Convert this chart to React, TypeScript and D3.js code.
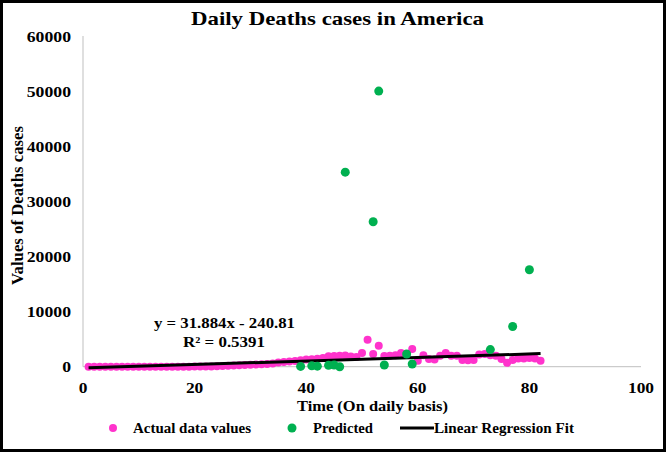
import { useEffect, useRef } from 'react';
import * as d3 from 'd3';

// actual daily deaths, days 1..82
const actualDays = d3.range(1, 83);
const actualValues = [
  0, 0, 0, 0, 0, 0, 0, 0, 0, 0,
  0, 0, 0, 0, 0, 0, 0, 0, 10, 20,
  30, 40, 50, 80, 120, 150, 200, 250, 300, 350,
  400, 450, 500, 600, 750, 850, 950, 1050, 1150, 1300,
  1350, 1450, 1600, 1900, 1950, 2000, 2050, 1850, 1750, 2500,
  4900, 2300, 3800, 1950, 2000, 2100, 2500, 2300, 3200, 1100,
  2100, 1400, 1300, 2000, 2500, 2000, 2000, 1200, 1150, 1200,
  2200, 2300, 2100, 2000, 1400, 700, 1200, 1500, 1500, 1600,
  1500, 1100,
];

// predicted points
const predDays = [39, 41, 42, 44, 45, 46, 47, 52, 53, 54, 58, 59, 73, 77, 80];
const predValues = [50, 150, 100, 250, 300, 0, 35300, 26300, 50000, 300, 2300, 500, 3100, 7300, 17600];

// regression fit
const slope = 31.884;
const intercept = -240.81;
const fitRange = [1, 82];

const xTicks = [0, 20, 40, 60, 80, 100];
const yTicks = [0, 10000, 20000, 30000, 40000, 50000, 60000];

const pink = '#ff33cc';
const green = '#00b050';
const font = '"Liberation Serif", "Times New Roman", serif';

const W = 666;
const H = 452;

const App = () => {
  const svgRef = useRef<SVGSVGElement>(null);

  useEffect(() => {
    const svg = d3.select(svgRef.current);
    svg.selectAll('*').remove();

    const x = d3.scaleLinear().domain([0, 100]).range([83, 641]);
    const y = d3.scaleLinear().domain([0, 60000]).range([366.7, 36]);

    svg.append('rect').attr('width', W).attr('height', H).attr('fill', '#fff');

    // stretched text helper (the source picture is wider than tall)
    const label = (txt: string, tx: number, ty: number, size: number, len: number, anchor = 'start') => {
      const t = svg.append('text')
        .attr('x', tx).attr('y', ty)
        .attr('text-anchor', anchor)
        .style('font', `bold ${size}px ${font}`)
        .text(txt);
      if (len) t.attr('textLength', len).attr('lengthAdjust', 'spacingAndGlyphs');
      return t;
    };

    // title
    label('Daily Deaths cases in America', 191, 25, 19, 293);

    // axes lines
    svg.append('line')
      .attr('x1', x(0)).attr('x2', x(0))
      .attr('y1', y(0)).attr('y2', y(60000))
      .attr('stroke', '#bfbfbf').attr('stroke-width', 1);
    svg.append('line')
      .attr('x1', x(0)).attr('x2', x(100))
      .attr('y1', y(0)).attr('y2', y(0))
      .attr('stroke', '#bfbfbf').attr('stroke-width', 1);

    // tick labels
    svg.append('g').selectAll('text')
      .data(yTicks).enter().append('text')
      .attr('transform', d => `translate(71,${y(d) + 5.5}) scale(1.18,1)`)
      .attr('text-anchor', 'end')
      .style('font', `bold 15px ${font}`)
      .text(d => d);

    svg.append('g').selectAll('text')
      .data(xTicks).enter().append('text')
      .attr('transform', d => `translate(${x(d)},393) scale(1.16,1)`)
      .attr('text-anchor', 'middle')
      .style('font', `bold 15px ${font}`)
      .text(d => d);

    // axis titles
    svg.append('text')
      .attr('transform', 'translate(23.3,126) rotate(-90)')
      .attr('x', -159)
      .attr('text-anchor', 'start')
      .attr('textLength', 159)
      .attr('lengthAdjust', 'spacingAndGlyphs')
      .style('font', `bold 17px ${font}`)
      .text('Values of Deaths cases');

    label('Time (On daily basis)', 297, 411, 15, 151);

    // actual points
    svg.append('g').selectAll('circle')
      .data(actualDays).enter().append('circle')
      .attr('cx', d => x(d))
      .attr('cy', (d, i) => y(actualValues[i]))
      .attr('r', 4)
      .attr('fill', pink);

    // regression line
    svg.append('line')
      .attr('x1', x(fitRange[0])).attr('y1', y(slope * fitRange[0] + intercept))
      .attr('x2', x(fitRange[1])).attr('y2', y(slope * fitRange[1] + intercept))
      .attr('stroke', '#000').attr('stroke-width', 3);

    // predicted points
    svg.append('g').selectAll('circle')
      .data(predDays).enter().append('circle')
      .attr('cx', d => x(d))
      .attr('cy', (d, i) => y(predValues[i]))
      .attr('r', 4.5)
      .attr('fill', green);

    // equation
    label(`y = ${slope}x - ${Math.abs(intercept)}`, 154, 328, 15, 141);
    label('R² = 0.5391', 183, 347, 15, 82);

    // legend
    svg.append('circle').attr('cx', 113).attr('cy', 428).attr('r', 4).attr('fill', pink);
    label('Actual data values', 133, 433, 14, 118);
    svg.append('circle').attr('cx', 292).attr('cy', 428).attr('r', 4.5).attr('fill', green);
    label('Predicted', 313, 433, 14, 60);
    svg.append('line').attr('x1', 400).attr('x2', 434).attr('y1', 428).attr('y2', 428)
      .attr('stroke', '#000').attr('stroke-width', 3);
    label('Linear Regression Fit', 434, 433, 14, 140);

    // frame
    svg.append('rect')
      .attr('x', 1.5).attr('y', 1.5)
      .attr('width', W - 3).attr('height', H - 3)
      .attr('fill', 'none').attr('stroke', '#000').attr('stroke-width', 3);
  }, []);

  return (
    <svg
      ref={svgRef}
      width={W}
      height={H}
      style={{ position: 'absolute', left: 0, top: 0, display: 'block' }}
    />
  );
};

export default App;
